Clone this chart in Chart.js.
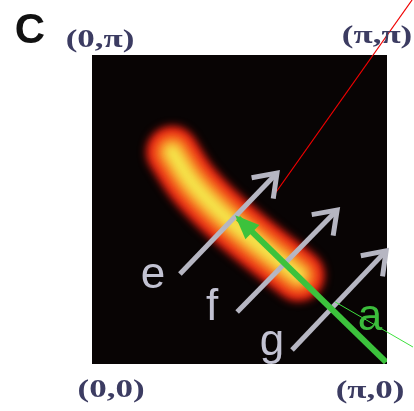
<!DOCTYPE html>
<html>
<head>
<meta charset="utf-8">
<script src="https://cdn.jsdelivr.net/npm/chart.js@4/dist/chart.umd.min.js"></script>
<style>
  html, body { margin: 0; padding: 0; background: #fff; }
  #wrap { width: 414px; height: 411px; }
</style>
</head>
<body>
<div id="wrap"><canvas id="chart"></canvas></div>
<script>
// axes run from 0 to pi, values below are in units of pi
const cornerLabels = ['(0,0)', '(π,0)', '(0,π)', '(π,π)'];
const panelLabel = 'C';

// ridge of the intensity blob
const blobX = [0.272, 0.337, 0.425, 0.527, 0.630, 0.700];
const blobY = [0.686, 0.590, 0.500, 0.416, 0.338, 0.287];

// gray cuts e, f, g
const cutNames = ['e', 'f', 'g'];
const cutTailX = [0.298, 0.492, 0.678];
const cutTailY = [0.291, 0.168, 0.045];
const cutTipX = [0.627, 0.831, 0.997];
const cutTipY = [0.618, 0.498, 0.366];
const cutLabelX = [0.207, 0.407, 0.610];
const cutLabelY = [0.285, 0.181, 0.068];

// green cut a
const greenX = [0.997, 0.495];
const greenY = [0.006, 0.472];
const greenLabel = 'a';
const greenLabelX = [0.942];
const greenLabelY = [0.149];

// thin guide lines leaving the panel
const redLineX = [0.617, 1.085];
const redLineY = [0.547, 1.178];
const greenLineX = [0.824, 1.088];
const greenLineY = [0.201, 0.055];

const pts = (xs, ys) => xs.map((x, i) => ({ x: x, y: ys[i] }));

// blob layers, outside to inside
const blobLayers = [
  { color: '#e41c12', width: 52, blur: 4 },
  { color: '#f04a18', width: 40, blur: 5 },
  { color: '#f89a2a', width: 28, blur: 5 },
  { color: '#f4e44a', width: 14, blur: 4 }
];

const datasets = [];
blobLayers.forEach((l, i) => {
  datasets.push({
    data: pts(blobX, blobY),
    borderColor: l.color,
    borderWidth: l.width,
    borderCapStyle: 'round',
    borderJoinStyle: 'round',
    tension: 0.4,
    pointRadius: 0,
    blur: l.blur,
    order: 20 - i
  });
});

cutNames.forEach((n, i) => {
  datasets.push({
    data: pts([cutTailX[i], cutTipX[i]], [cutTailY[i], cutTipY[i]]),
    borderColor: '#b6b6c2',
    borderWidth: 5,
    borderCapStyle: 'butt',
    pointRadius: 0,
    arrow: 'open',
    order: 8
  });
});

datasets.push({
  data: pts(greenX, greenY),
  borderColor: '#3cc23c',
  borderWidth: 6,
  pointRadius: 0,
  arrow: 'filled',
  order: 5
});

datasets.push({
  data: pts(redLineX, redLineY),
  borderColor: '#f00000',
  borderWidth: 1.2,
  pointRadius: 0,
  clip: false,
  order: 1
});

datasets.push({
  data: pts(greenLineX, greenLineY),
  borderColor: '#3ee03e',
  borderWidth: 1,
  pointRadius: 0,
  clip: false,
  order: 1
});

const panelPlugin = {
  id: 'panel',
  beforeDatasetsDraw(chart) {
    const a = chart.chartArea;
    const ctx = chart.ctx;
    ctx.save();
    ctx.fillStyle = '#080404';
    ctx.fillRect(a.left, a.top, a.right - a.left, a.bottom - a.top);
    ctx.restore();
  },
  beforeDatasetDraw(chart, args) {
    const ds = chart.data.datasets[args.index];
    if (ds.blur) {
      chart.ctx.save();
      chart.ctx.filter = 'blur(' + ds.blur + 'px)';
    }
  },
  afterDatasetDraw(chart, args) {
    const ds = chart.data.datasets[args.index];
    if (ds.blur) chart.ctx.restore();
  },
  afterDatasetsDraw(chart) {
    const ctx = chart.ctx;
    const xs = chart.scales.x, ys = chart.scales.y;

    // arrow heads at the last point of each cut
    chart.data.datasets.forEach((ds, i) => {
      if (!ds.arrow) return;
      const m = chart.getDatasetMeta(i).data;
      const p0 = m[m.length - 2], p1 = m[m.length - 1];
      const ang = Math.atan2(p1.y - p0.y, p1.x - p0.x);
      ctx.save();
      ctx.translate(p1.x, p1.y);
      ctx.rotate(ang);
      if (ds.arrow === 'open') {
        ctx.strokeStyle = ds.borderColor;
        ctx.lineWidth = ds.borderWidth;
        ctx.lineCap = 'butt';
        ctx.lineJoin = 'miter';
        ctx.beginPath();
        ctx.moveTo(-21, -15);
        ctx.lineTo(0, 0);
        ctx.lineTo(-21, 15);
        ctx.stroke();
      } else {
        ctx.fillStyle = ds.borderColor;
        ctx.beginPath();
        ctx.moveTo(4, 0);
        ctx.lineTo(-20, -10);
        ctx.lineTo(-20, 10);
        ctx.closePath();
        ctx.fill();
      }
      ctx.restore();
    });

    // cut letters
    ctx.save();
    ctx.textAlign = 'center';
    ctx.textBaseline = 'middle';
    ctx.font = '44px "Liberation Sans", Arial, sans-serif';
    ctx.fillStyle = '#c2c2d2';
    cutNames.forEach((n, i) => {
      ctx.fillText(n, xs.getPixelForValue(cutLabelX[i]), ys.getPixelForValue(cutLabelY[i]));
    });
    ctx.fillStyle = '#3cbc3c';
    ctx.fillText(greenLabel, xs.getPixelForValue(greenLabelX[0]), ys.getPixelForValue(greenLabelY[0]));
    ctx.restore();

    // corner labels
    const a = chart.chartArea;
    const spots = [
      [a.left + 19, a.bottom + 27],
      [a.right - 17, a.bottom + 28],
      [a.left + 8, a.top - 14],
      [a.right - 10, a.top - 18]
    ];
    ctx.save();
    ctx.font = 'bold 25px "Liberation Serif", "Times New Roman", serif';
    ctx.fillStyle = '#3c3c62';
    ctx.textAlign = 'center';
    ctx.textBaseline = 'middle';
    ctx.filter = 'blur(0.6px)';
    cornerLabels.forEach((t, i) => {
      ctx.save();
      ctx.translate(spots[i][0], spots[i][1]);
      ctx.scale(1.4, 1);
      ctx.fillText(t, 0, 0);
      ctx.restore();
    });
    ctx.filter = 'none';
    ctx.font = 'bold 42px "Liberation Sans", Arial, sans-serif';
    ctx.fillStyle = '#111';
    ctx.fillText(panelLabel, 30, 31);
    ctx.restore();
  }
};

new Chart(document.getElementById('chart'), {
  type: 'line',
  data: { datasets: datasets },
  options: {
    responsive: true,
    maintainAspectRatio: false,
    animation: false,
    layout: { padding: { left: 92, right: 27, top: 55, bottom: 47 } },
    scales: {
      x: { type: 'linear', min: 0, max: 1, display: false },
      y: { type: 'linear', min: 0, max: 1, display: false }
    },
    plugins: { legend: { display: false }, tooltip: { enabled: false } }
  },
  plugins: [panelPlugin]
});
</script>
</body>
</html>
